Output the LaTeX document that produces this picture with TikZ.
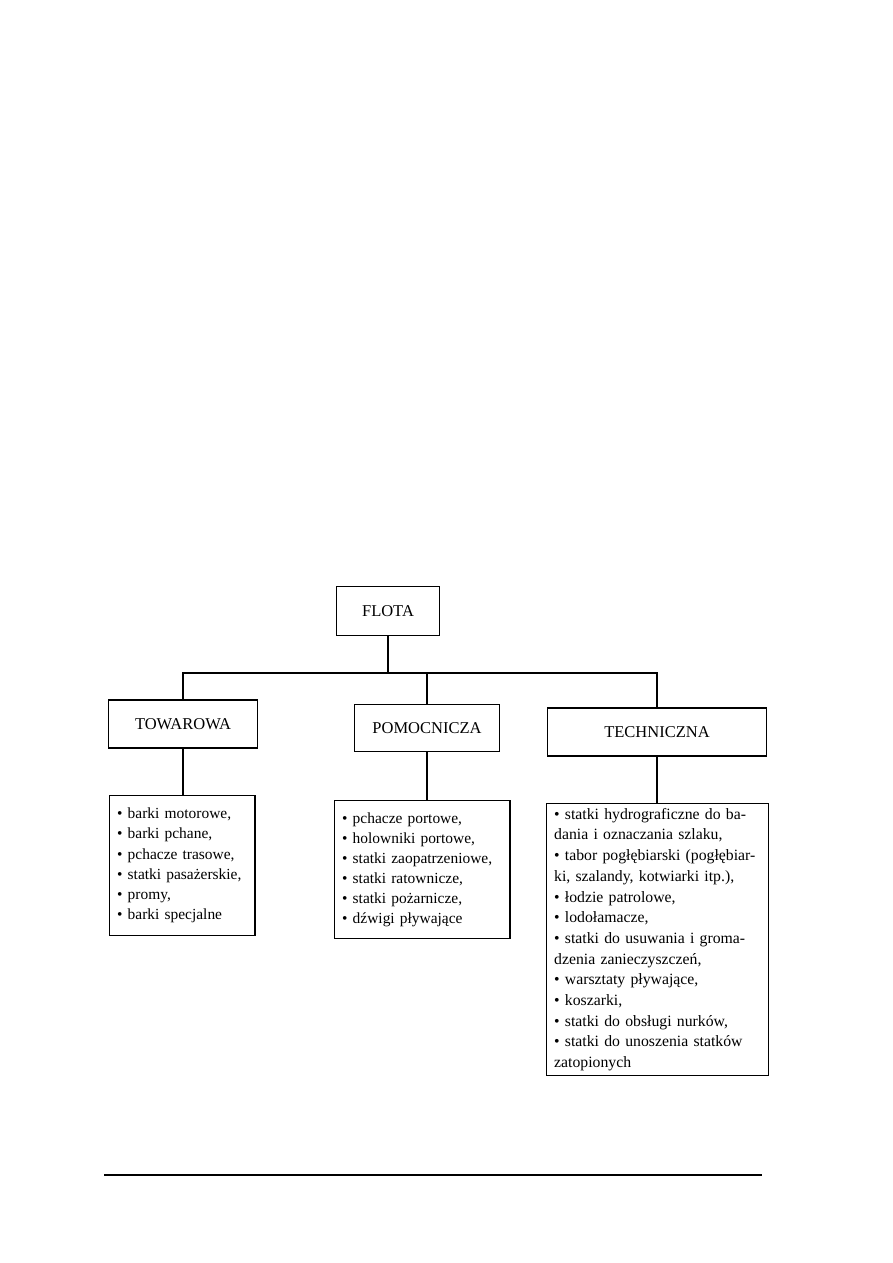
\documentclass[tikz,border=0pt]{standalone}
\usepackage{fontspec}
\setmainfont{Liberation Serif}
\usetikzlibrary{positioning}
\hyphenpenalty=10000

\tikzset{
  head/.style={draw, line width=0.9pt, minimum height=32pt,
    font=\fontsize{11}{13}\selectfont},
  listbox/.style={draw, line width=0.9pt, anchor=north west, align=left,
    inner xsep=5pt, inner ysep=4pt, font=\fontsize{10.3}{13.4}\selectfont},
  link/.style={line width=0.9pt}
}
\newcommand{\itm}{\textbullet\ }

\begin{document}
\begin{tikzpicture}[x=0.6667pt, y=-0.6667pt]
  \useasboundingbox (0,0) rectangle (893,1263);
  % top of the tree
  \node[head, minimum width=69pt, minimum height=33pt] (flota) at (388,611) {FLOTA};
  \coordinate (hub) at (388,673);
  % three kinds of fleet
  \node[head, minimum width=99pt] (tow) at (183,724) {TOWAROWA};
  \node[head, minimum width=97pt, minimum height=31pt] (pom) at (427,728) {POMOCNICZA};
  \node[head, minimum width=146pt] (tech) at (657,732) {TECHNICZNA};
  \draw[link] (flota) -- (hub);
  \draw[link] (hub) -| (tow);
  \draw[link] (hub) -| (pom);
  \draw[link] (hub) -| (tech);
  % lists of ships
  \node[listbox, text width=87pt, minimum height=93pt] (towlist) at (109,795) {%
    \itm barki motorowe,\\
    \itm barki pchane,\\
    \itm pchacze trasowe,\\
    \itm statki pasażerskie,\\
    \itm promy,\\
    \itm barki specjalne};
  \node[listbox, text width=107pt, minimum height=92pt] (pomlist) at (334,800) {%
    \itm pchacze portowe,\\
    \itm holowniki portowe,\\
    \itm statki zaopatrzeniowe,\\
    \itm statki ratownicze,\\
    \itm statki pożarnicze,\\
    \itm dźwigi pływające};
  \node[listbox, text width=138pt, inner ysep=3pt, minimum height=179pt,
    font=\fontsize{10.5}{13.8}\selectfont] (techlist) at (546,803) {%
    \makebox[138pt][s]{\itm statki hydrograficzne do ba-}\\
    dania i oznaczania szlaku,\\
    \makebox[138pt][s]{\itm tabor pogłębiarski (pogłębiar-}\\
    ki, szalandy, kotwiarki itp.),\\
    \itm łodzie patrolowe,\\
    \itm lodołamacze,\\
    \makebox[138pt][s]{\itm statki do usuwania i groma-}\\
    dzenia zanieczyszczeń,\\
    \itm warsztaty pływające,\\
    \itm koszarki,\\
    \itm statki do obsługi nurków,\\
    \makebox[138pt][s]{\itm statki do unoszenia statków}\\
    zatopionych};
  \draw[link] (tow.south) -- (tow.south |- towlist.north);
  \draw[link] (pom.south) -- (pom.south |- pomlist.north);
  \draw[link] (tech.south) -- (tech.south |- techlist.north);
  % rule at the foot of the page
  \draw[line width=0.9pt] (104,1175) -- (762,1175);
\end{tikzpicture}
\end{document}
